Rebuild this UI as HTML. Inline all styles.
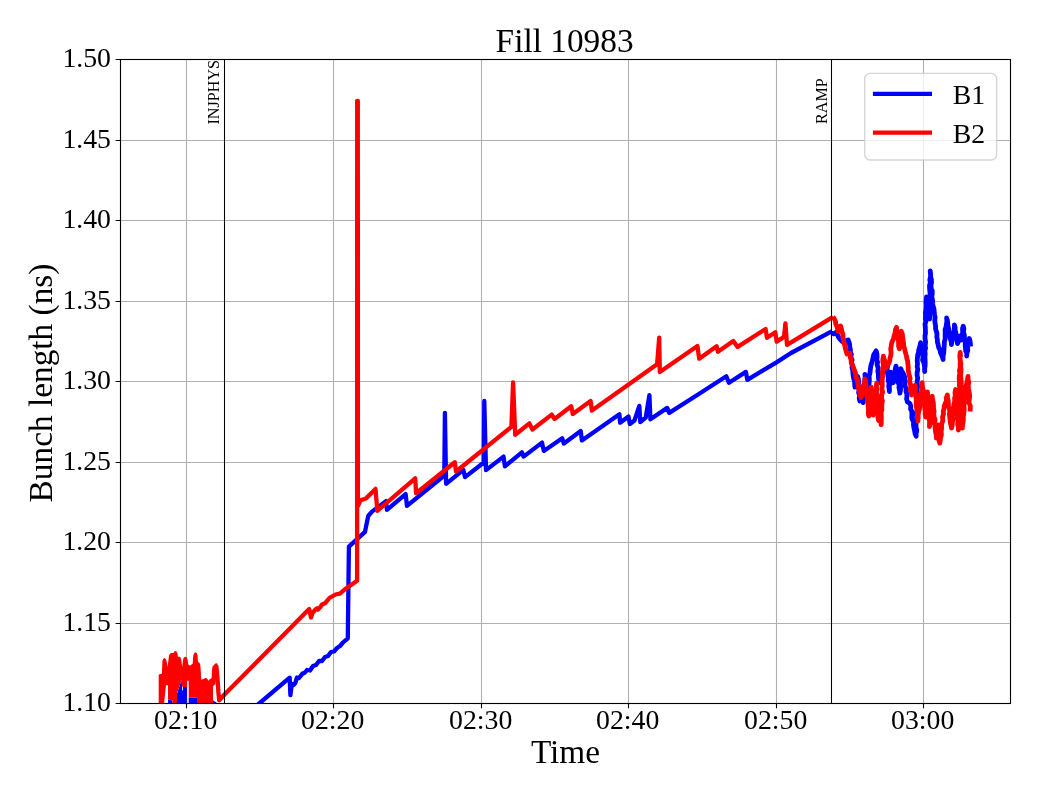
<!DOCTYPE html>
<html lang="en"><head><meta charset="utf-8"><title>Fill 10983</title>
<style>html,body{margin:0;padding:0;background:#fff}svg{display:block}text{font-family:'Liberation Serif','DejaVu Serif',serif;fill:#000}</style></head><body>
<svg width="1040" height="800" viewBox="0 0 1040 800">
<rect width="1040" height="800" fill="#fff"/>
<defs><clipPath id="ax"><rect x="120.5" y="59.5" width="890.0" height="644.0"/></clipPath></defs>
<path d="M186.5,59.5V703.5M333.5,59.5V703.5M481.5,59.5V703.5M628.5,59.5V703.5M776.5,59.5V703.5M923.5,59.5V703.5M120.5,703.5H1010.5M120.5,623.5H1010.5M120.5,542.5H1010.5M120.5,462.5H1010.5M120.5,381.5H1010.5M120.5,301.5H1010.5M120.5,220.5H1010.5M120.5,140.5H1010.5M120.5,59.5H1010.5" stroke="#b0b0b0" stroke-width="1.11" fill="none"/>
<g clip-path="url(#ax)" fill="none" stroke-width="4.3" stroke-linejoin="round" stroke-linecap="butt">
<polygon points="168.0,704.0 168.0,699.5 172.5,700.5 172.5,704.0" fill="#0000ff" stroke="none"/>
<polygon points="177.0,704.0 177.0,693.8 181.4,680.0 182.0,684.0 182.2,690.5 183.0,690.5 183.0,686.9 187.1,686.9 187.1,704.0" fill="#0000ff" stroke="none"/>
<polygon points="188.7,704.0 188.7,697.8 197.0,697.8 197.0,704.0" fill="#0000ff" stroke="none"/>
<polygon points="213.0,704.0 213.0,700.3 217.0,703.0 217.0,704.0" fill="#0000ff" stroke="none"/>
<polyline points="250.4,711.0 259.8,703.0 289.7,677.7 290.4,695.2 291.8,683.8 293.5,685.0 295.3,683.0 297.0,677.5 299.0,678.0 302.3,673.8 305.0,672.5 307.0,670.0 310.0,670.5 313.0,666.0 316.0,665.0 319.0,661.0 322.0,661.0 325.0,657.0 328.0,656.0 331.0,652.0 334.0,651.5 337.0,648.0 340.0,646.0 343.0,642.5 347.8,638.3 348.9,546.6 365.0,531.8 368.2,516.0 372.0,511.6 386.0,501.1 386.9,509.9 405.6,494.1 407.0,505.9 444.3,475.5 444.9,413.0 446.1,483.8 463.3,469.8 465.0,477.1 483.8,462.5 484.3,401.0 486.0,470.1 503.5,456.6 504.9,466.3 521.9,452.3 523.6,456.6 542.0,442.6 543.8,450.9 562.2,438.3 563.9,443.5 580.7,431.1 581.9,440.4 619.4,414.3 620.1,422.7 628.5,416.6 629.9,424.0 634.5,420.5 639.3,405.9 640.3,422.0 645.7,417.6 649.4,395.1 650.4,419.3 667.2,407.9 669.2,412.9 700.0,393.3 726.3,376.3 728.9,382.8 745.9,371.9 747.3,379.8 776.5,362.4 791.0,353.0 832.2,331.1" stroke="#0000ff"/>
<polyline points="832.2,331.1 832.5,332.9 833.7,333.9 835.5,332.6 837.3,334.5 838.4,336.9 839.9,339.1 841.4,340.7 842.5,341.7 845.0,343.0 846.2,341.0 848.2,340.0 849.1,342.3 849.6,344.3 849.8,347.4 850.4,349.6 850.4,352.7 851.4,354.3 850.8,357.4 852.1,359.9 851.6,362.5 852.2,365.2 852.0,367.6 852.8,370.7 852.9,373.1 853.2,376.1 853.7,378.4 854.6,381.7 854.7,384.0 854.9,387.1 856.1,384.9 855.9,381.7 857.2,379.5 857.7,376.6 858.4,379.2 858.5,382.2 858.2,384.8 859.1,387.8 858.9,390.3 858.6,392.6 859.7,395.5 859.2,398.3 859.8,401.0 860.8,399.7 861.4,398.0 862.2,400.2 863.2,402.5 863.4,400.0 863.6,396.8 863.7,393.6 863.4,391.5 864.6,388.6 864.1,385.3 864.4,383.4 864.9,380.1 865.1,376.9 864.9,374.4 865.5,377.8 866.2,380.2 866.5,383.2 867.9,385.5 868.0,388.9 868.6,386.6 869.0,383.9 869.3,381.1 869.3,378.4 869.1,376.2 870.0,372.9 870.2,370.6 870.5,368.0 871.0,365.1 871.9,362.6 872.6,359.7 873.2,357.0 873.7,354.7 874.8,353.0 876.2,350.9 876.9,354.1 877.1,357.0 876.8,359.9 877.6,362.0 877.1,364.8 878.2,368.0 877.8,371.3 878.4,373.6 878.4,376.9 878.7,379.6 879.4,382.7 880.5,380.0 881.0,377.3 881.6,374.6 883.0,372.0 884.0,369.5 884.7,368.2 886.2,365.3 887.2,363.5 887.5,366.6 887.1,368.6 887.5,372.1 887.7,374.9 888.5,377.5 888.2,380.8 889.1,383.1 888.7,386.1 889.1,388.8 889.4,391.5 889.4,388.9 889.3,385.8 890.5,383.6 889.9,380.9 890.1,378.2 890.8,374.9 890.7,372.2 891.1,374.3 892.5,376.9 893.1,380.6 893.4,382.7 893.9,379.6 894.7,377.7 894.9,374.4 895.0,371.5 895.2,369.1 896.0,366.1 896.3,368.5 896.3,371.7 896.9,374.2 897.4,377.3 898.4,379.1 898.0,382.2 899.3,385.4 898.9,387.5 899.7,390.9 899.9,393.2 900.5,390.3 900.5,388.0 900.2,385.6 900.0,382.6 899.9,379.2 901.0,376.6 900.9,374.3 901.1,371.3 900.8,368.7 901.6,370.7 903.2,373.2 904.2,375.7 904.7,377.5 904.6,380.3 904.9,382.4 905.1,386.1 906.2,388.8 906.0,391.2 906.8,393.7 906.9,396.3 906.6,399.0 907.4,402.0 909.1,402.9 910.0,403.7 910.9,406.3 910.6,409.3 911.7,411.0 911.9,413.8 911.8,417.2 912.1,419.2 913.6,422.0 913.5,424.7 913.8,427.2 914.6,430.7 915.1,433.8 916.2,436.2 916.1,433.8 916.8,430.2 916.1,427.5 916.0,424.8 916.0,421.2 917.0,418.6 916.7,415.9 916.4,412.6 917.1,410.7 917.2,406.8 916.5,404.5 917.4,401.5 917.1,398.7 916.7,395.7 916.8,392.5 916.6,389.6 917.6,386.9 917.3,384.3 917.2,381.2 917.7,378.2 917.1,375.2 917.1,372.8 917.8,369.3 917.2,366.7 917.5,363.8 917.2,360.3 917.5,357.9 917.7,354.9 918.6,352.4 918.6,350.4 919.3,348.1 920.1,345.6 920.6,342.7 920.6,345.6 921.7,348.0 922.3,351.0 922.5,354.8 923.0,357.0 922.6,360.1 923.9,362.7 924.3,365.4 924.7,368.2 924.7,371.6 924.5,369.1 925.1,366.2 925.2,363.0 925.1,359.5 924.9,356.5 925.2,354.1 924.8,350.5 925.6,348.4 925.2,345.2 925.6,342.1 925.1,339.1 925.0,335.8 925.5,333.3 925.4,329.9 925.3,327.1 925.0,324.3 925.9,321.5 925.4,318.8 925.6,315.7 925.4,312.5 925.9,310.4 926.1,307.6 926.3,305.3 926.0,302.3 926.3,299.4 926.5,297.0 926.8,299.8 927.7,303.0 927.4,305.4 927.6,307.5 928.5,311.2 928.5,313.8 929.6,316.0 929.6,319.0 929.8,316.6 929.5,313.6 930.0,310.6 930.1,308.1 930.3,305.0 929.5,301.8 929.5,299.3 930.2,295.9 930.1,293.8 929.8,290.8 929.6,288.2 929.5,285.6 930.4,282.4 929.8,279.9 930.6,276.3 930.5,274.2 930.2,271.0 930.6,274.1 930.6,277.3 931.4,279.6 931.5,282.5 931.0,285.3 931.2,288.8 932.3,290.9 932.2,294.1 931.8,296.9 932.5,300.0 932.7,303.2 932.9,305.5 933.9,308.7 934.1,311.1 934.6,314.6 935.1,317.1 934.8,320.4 935.1,323.4 935.6,326.2 935.6,329.0 936.5,331.8 937.0,334.1 936.8,337.1 937.4,339.4 937.4,342.0 938.1,344.4 938.7,347.6 940.0,349.9 940.4,352.6 941.6,355.2 942.6,357.6 943.1,359.5 943.0,356.5 943.7,353.3 943.9,350.4 944.1,347.1 944.3,344.6 944.4,341.6 945.2,338.9 945.1,335.9 945.2,332.4 945.1,329.5 946.0,327.2 946.5,323.9 946.9,320.8 946.6,317.9 947.4,320.5 947.8,323.8 947.8,325.5 948.7,328.6 948.8,330.7 949.4,333.8 949.9,337.0 950.5,339.5 951.4,342.2 951.4,344.6 951.8,342.1 952.4,339.1 952.8,336.1 953.3,333.5 954.0,330.8 954.4,328.0 954.4,324.9 955.2,327.7 955.1,330.0 956.0,333.4 956.2,335.3 957.0,338.3 957.0,340.5 957.5,343.7 958.4,341.4 959.1,338.3 960.1,335.9 961.0,337.4 961.5,340.0 961.8,337.7 962.4,334.4 962.7,331.8 962.5,328.6 963.2,326.2 963.9,328.7 963.4,332.0 964.2,334.2 964.5,337.3 964.4,339.9 965.3,342.8 965.2,345.3 965.5,347.9 965.7,350.9 966.8,353.1 966.7,356.0 966.8,353.6 967.8,350.5 967.5,347.7 968.6,344.1 968.8,341.7 969.3,338.5 970.0,340.8 970.3,343.4 970.6,346.4" stroke="#0000ff" stroke-width="4.8"/>
<polygon points="158.7,704.0 158.7,674.5 160.7,673.9 161.9,673.5 162.4,661.0 163.2,658.8 164.8,658.0 166.2,659.5 166.8,662.5 167.6,667.0 168.3,661.0 169.0,655.6 170.2,653.6 171.7,653.1 173.5,653.1 174.3,651.6 175.3,651.1 176.4,651.6 177.4,653.1 178.0,656.8 179.8,656.8 180.8,658.0 181.4,660.4 182.2,667.0 182.9,661.0 183.5,658.0 184.5,657.0 185.5,656.8 186.6,657.3 187.5,659.2 188.3,664.5 190.0,665.7 191.5,664.5 192.7,663.7 193.1,657.0 193.6,654.6 194.5,652.8 195.6,652.3 196.7,652.9 197.5,655.0 198.0,662.0 199.2,662.5 200.1,664.0 200.6,668.0 201.3,680.0 202.3,679.3 203.7,679.1 204.6,678.2 205.7,677.9 206.6,678.3 207.4,679.1 208.6,680.8 209.6,679.2 210.6,678.7 211.6,678.0 212.0,670.0 212.5,666.5 214.0,665.0 215.3,663.6 216.3,663.3 217.2,663.6 217.8,665.5 217.4,672.0 215.2,684.8 214.3,684.8 213.0,686.5 213.0,704.0 197.0,704.0 197.0,697.8 188.7,697.8 188.7,680.8 187.1,680.8 187.1,686.9 183.0,686.9 181.8,686.5 181.4,680.0 177.0,693.8 177.0,704.0 172.5,704.0 172.5,700.5 168.0,699.5 168.0,685.2 166.0,685.2 164.0,704.0" fill="#ff0000" stroke="none"/>
<polyline points="216.3,665.4 217.3,676.0 218.4,692.0 219.2,700.4 224.5,694.5 309.2,609.0 311.0,617.5 312.5,613.0 315.0,610.0 317.0,608.3 318.0,609.5 320.0,607.5 322.0,604.5 325.0,603.3 329.4,598.0 335.5,594.5 339.9,593.6 346.0,588.4 357.1,580.8 357.2,100.8 357.8,100.8 357.9,506.0 360.6,500.3 365.9,498.5 375.5,488.9 377.3,510.8 415.2,478.4 416.1,493.3 454.8,462.2 456.0,471.5 511.4,426.9 513.1,382.5 515.2,434.8 529.4,423.4 532.4,429.5 551.7,414.6 554.6,419.0 571.2,406.3 572.8,414.0 590.6,401.0 591.9,410.6 657.1,364.3 659.2,337.7 659.8,372.1 697.4,345.9 699.2,358.7 716.6,346.2 717.9,351.8 733.3,340.9 737.6,346.9 765.6,329.0 767.0,337.8 775.3,332.2 776.7,341.6 784.0,336.9 785.4,323.4 787.0,344.8 833.0,316.8" stroke="#ff0000"/>
<polyline points="833.0,316.8 833.3,317.2 835.0,320.1 835.6,322.0 835.7,323.9 837.2,327.0 837.6,328.9 838.0,331.5 839.0,329.8 839.9,327.5 840.7,326.0 841.2,328.7 842.1,332.1 842.9,334.4 842.9,336.9 843.5,340.0 843.7,342.3 844.8,345.4 845.4,348.8 846.2,351.3 846.9,354.0 848.1,353.0 849.9,353.1 850.0,355.1 850.6,358.4 851.1,360.0 851.2,362.7 852.8,365.7 853.5,368.0 854.5,370.5 855.2,372.4 855.6,374.1 856.0,377.4 857.3,379.2 857.7,382.5 858.0,385.0 858.6,387.6 859.2,390.5 859.8,392.9 860.2,395.5 861.0,397.6 862.0,394.9 862.2,392.7 862.9,389.5 862.9,386.7 864.0,383.8 864.8,381.2 864.9,378.8 865.7,381.5 866.0,384.7 865.8,387.4 866.3,390.3 866.2,392.8 866.8,396.4 867.2,398.4 867.7,401.9 868.1,404.2 868.2,406.9 868.5,410.0 868.3,413.6 868.9,416.0 868.7,413.1 869.7,409.9 869.2,407.7 869.7,404.7 869.5,401.4 869.9,398.9 870.0,396.3 870.1,393.1 870.4,389.7 871.1,387.1 871.7,389.5 871.2,392.9 871.6,395.0 872.5,397.9 871.6,400.9 872.5,404.2 872.1,406.5 872.3,409.4 873.3,412.6 873.2,415.1 874.0,412.5 874.2,409.5 874.1,406.1 874.6,403.3 874.4,400.5 875.5,397.3 875.5,394.7 875.8,391.5 876.6,388.7 876.5,386.0 876.7,383.2 876.3,386.1 876.6,388.5 876.6,391.4 876.8,394.8 877.4,398.1 878.1,401.0 877.4,403.2 877.6,406.3 878.2,409.4 878.4,411.6 878.2,414.8 877.9,417.1 878.6,420.5 878.7,417.2 879.3,414.5 878.9,411.5 879.6,409.0 879.6,411.3 880.1,414.2 880.1,417.0 880.3,419.9 881.4,422.3 881.1,424.7 881.1,421.7 881.4,418.2 881.3,415.8 881.1,412.3 881.9,409.7 881.7,407.3 881.9,403.6 882.4,400.7 881.5,398.1 881.7,394.7 882.6,392.1 881.8,388.9 882.3,386.0 882.2,383.1 882.1,379.8 882.6,377.5 882.3,374.4 882.6,371.2 882.9,368.1 883.4,365.0 882.8,361.7 882.8,359.6 883.4,356.2 884.1,359.1 884.7,360.4 885.3,363.6 885.9,365.6 886.2,368.0 887.2,365.6 888.9,363.1 889.7,361.0 890.0,358.1 890.8,355.5 891.1,352.6 890.7,349.0 891.2,346.2 891.5,343.5 892.3,341.2 893.6,338.6 894.0,336.0 895.0,333.4 895.1,332.2 895.6,329.4 896.6,327.3 896.5,329.5 897.7,333.2 897.8,335.0 897.8,337.8 898.5,340.9 898.6,343.5 898.6,346.2 899.4,348.8 900.2,346.1 899.6,343.0 900.6,339.7 901.1,337.0 901.2,334.0 901.3,331.2 902.4,334.4 902.5,336.7 902.9,339.5 903.6,343.4 903.7,345.9 904.6,348.8 905.1,351.1 905.9,354.1 906.5,356.0 906.8,358.5 907.7,361.2 907.9,364.4 908.3,367.5 908.2,370.1 908.8,373.0 909.3,375.7 910.1,378.6 909.4,381.2 910.5,384.4 910.7,387.1 910.3,390.0 911.4,392.4 911.5,395.0 912.8,393.0 912.9,390.5 914.5,387.4 915.1,385.3 915.6,388.4 915.2,391.6 915.4,394.4 916.0,397.0 916.3,400.2 916.2,403.7 916.3,405.6 917.0,409.5 917.4,412.4 917.4,415.3 917.5,417.9 917.9,421.1 918.2,417.6 918.1,415.5 918.5,412.5 919.5,409.1 919.7,406.6 920.3,402.9 919.8,400.2 920.5,397.2 920.3,394.5 921.7,391.3 921.6,388.4 921.8,386.0 922.2,382.6 922.3,385.6 922.7,388.4 923.5,390.7 923.7,393.9 923.8,397.3 924.1,399.7 924.6,402.2 924.6,405.4 924.8,408.8 925.4,411.4 925.1,413.8 925.6,417.0 925.8,413.9 925.8,411.9 925.8,409.0 926.3,405.7 926.5,402.6 926.8,400.0 927.0,397.3 927.7,395.2 927.5,392.0 927.6,395.0 928.3,397.6 927.5,400.4 927.8,403.7 928.2,406.3 928.8,409.0 928.9,412.3 928.7,415.4 928.8,418.4 929.6,420.8 929.5,424.2 929.4,426.6 929.9,424.1 930.3,421.6 930.5,418.9 930.2,415.7 930.9,412.7 930.9,409.7 931.7,407.2 931.5,405.0 931.4,402.3 931.6,398.5 932.3,396.3 932.4,399.1 933.3,402.7 933.5,405.2 933.5,407.9 934.1,411.1 933.8,414.3 934.0,416.9 935.1,419.7 934.5,422.8 935.0,426.0 935.2,428.9 935.5,431.8 936.2,434.8 936.4,438.0 936.5,435.7 936.5,432.4 937.6,430.1 937.8,427.2 937.8,425.0 938.1,428.0 938.2,430.5 938.8,432.6 939.5,435.2 939.2,438.1 939.3,440.9 939.8,443.1 940.3,440.3 940.5,437.9 941.4,434.9 941.2,431.5 941.6,428.3 941.5,426.4 941.8,423.5 942.8,420.6 942.5,417.1 943.6,413.9 943.2,411.4 944.0,408.7 944.3,405.6 945.5,402.8 946.6,400.6 946.2,398.2 947.4,395.0 947.5,397.7 948.1,400.1 948.4,402.8 948.4,406.5 949.5,408.8 949.7,411.9 949.4,414.2 949.7,416.6 950.0,419.4 950.3,422.2 951.0,425.4 951.5,428.0 952.2,425.5 952.4,422.1 952.9,418.7 952.3,416.5 953.2,412.9 953.3,410.0 953.6,407.2 953.9,404.6 954.7,401.4 954.6,398.1 955.3,396.0 955.0,392.7 955.6,389.5 956.0,392.6 955.5,395.3 955.9,397.8 956.5,401.2 956.7,404.2 957.0,406.8 956.5,410.0 957.6,413.0 957.5,415.0 957.3,418.0 957.9,421.4 957.7,424.7 958.7,427.5 958.4,430.0 958.4,426.8 958.2,424.4 958.8,420.8 959.1,418.2 958.7,415.0 959.1,412.1 959.1,408.7 959.2,405.9 959.5,402.9 958.9,400.2 959.0,397.2 959.7,393.9 959.6,391.5 959.7,388.2 959.4,385.1 959.5,382.0 959.2,379.3 959.3,376.3 959.8,373.2 959.4,370.5 960.3,367.1 960.1,364.6 960.4,361.6 959.9,358.1 960.5,355.3 960.2,352.5 959.8,355.8 960.0,358.1 960.3,360.9 960.8,363.9 960.6,366.9 961.1,369.4 960.9,372.4 960.5,375.8 960.9,378.2 961.2,382.0 961.3,384.4 961.6,387.8 961.0,390.0 961.9,393.6 961.2,396.3 962.0,399.1 961.9,401.9 961.5,404.5 961.4,407.9 961.6,410.7 961.9,413.4 962.7,416.3 962.2,419.2 962.0,421.9 962.4,425.4 962.5,428.0 962.3,425.7 963.1,422.0 963.4,419.6 963.3,416.6 963.6,414.3 964.1,411.6 964.2,409.0 963.9,405.5 964.4,402.8 964.2,400.3 964.8,397.9 965.0,395.0 965.6,392.8 965.4,389.7 965.8,387.2 966.6,384.0 966.9,381.9 967.5,379.5 968.0,376.4 968.0,379.1 968.8,382.4 968.1,385.5 968.5,388.6 969.0,391.4 969.5,394.0 969.7,396.4 969.2,400.2 969.0,402.9 970.3,405.9 970.3,408.1 970.1,411.5" stroke="#ff0000" stroke-width="4.8"/>
</g>
<path d="M224.5,59.5V703.5M831.5,59.5V703.5" stroke="#000" stroke-width="1.05" fill="none"/>
<path d="M186.5,703.5v4.86M333.5,703.5v4.86M481.5,703.5v4.86M628.5,703.5v4.86M776.5,703.5v4.86M923.5,703.5v4.86M120.5,703.5h-4.86M120.5,623.5h-4.86M120.5,542.5h-4.86M120.5,462.5h-4.86M120.5,381.5h-4.86M120.5,301.5h-4.86M120.5,220.5h-4.86M120.5,140.5h-4.86M120.5,59.5h-4.86" stroke="#000" stroke-width="1.11" fill="none"/>
<rect x="120.5" y="59.5" width="890.0" height="644.0" fill="none" stroke="#000" stroke-width="1.11"/>
<text x="185.7" y="729.3" font-size="27.78" text-anchor="middle">02:10</text>
<text x="332.7" y="729.3" font-size="27.78" text-anchor="middle">02:20</text>
<text x="480.7" y="729.3" font-size="27.78" text-anchor="middle">02:30</text>
<text x="627.7" y="729.3" font-size="27.78" text-anchor="middle">02:40</text>
<text x="775.7" y="729.3" font-size="27.78" text-anchor="middle">02:50</text>
<text x="922.7" y="729.3" font-size="27.78" text-anchor="middle">03:00</text>
<text x="111" y="710.7" font-size="27.78" text-anchor="end">1.10</text>
<text x="111" y="630.7" font-size="27.78" text-anchor="end">1.15</text>
<text x="111" y="549.7" font-size="27.78" text-anchor="end">1.20</text>
<text x="111" y="469.7" font-size="27.78" text-anchor="end">1.25</text>
<text x="111" y="388.7" font-size="27.78" text-anchor="end">1.30</text>
<text x="111" y="308.7" font-size="27.78" text-anchor="end">1.35</text>
<text x="111" y="227.7" font-size="27.78" text-anchor="end">1.40</text>
<text x="111" y="147.7" font-size="27.78" text-anchor="end">1.45</text>
<text x="111" y="66.7" font-size="27.78" text-anchor="end">1.50</text>
<text x="564.6" y="51.9" font-size="33.33" text-anchor="middle">Fill 10983</text>
<text x="565.5" y="762.8" font-size="33.33" text-anchor="middle">Time</text>
<text transform="translate(51.8,383) rotate(-90)" font-size="33.33" text-anchor="middle">Bunch length (ns)</text>
<text transform="translate(219.1,124.5) rotate(-90) scale(0.968,1.065)" font-size="16.67" text-anchor="start">INJPHYS</text>
<text transform="translate(826.9,124.0) rotate(-90) scale(0.968,1.065)" font-size="16.67" text-anchor="start">RAMP</text>
<rect x="864.7" y="73.4" width="131.9" height="86.6" rx="5.5" ry="5.5" fill="#fff" fill-opacity="0.8" stroke="#ccc" stroke-opacity="0.8" stroke-width="1.39"/>
<path d="M872.9,93.8H932" stroke="#0000ff" stroke-width="4.17" fill="none"/>
<path d="M872.9,132.7H932" stroke="#ff0000" stroke-width="4.17" fill="none"/>
<text x="952.7" y="103.8" font-size="27.78">B1</text>
<text x="952.7" y="143" font-size="27.78">B2</text>
</svg></body></html>
